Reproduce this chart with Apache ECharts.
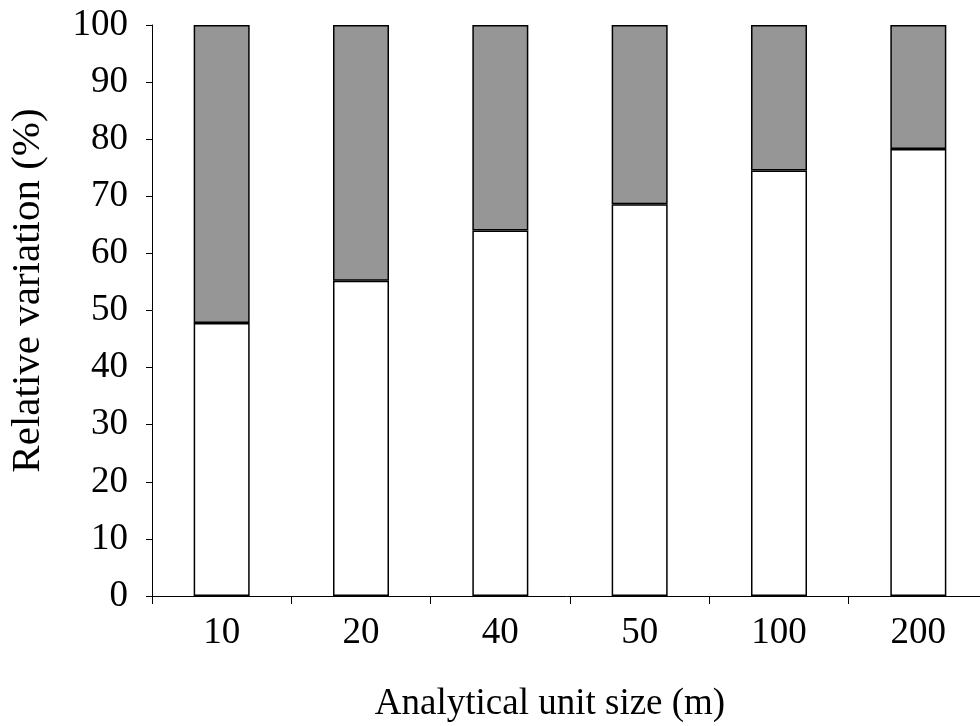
<!DOCTYPE html>
<html><head><meta charset="utf-8">
<script src="https://cdn.jsdelivr.net/npm/echarts@6/dist/echarts.min.js"></script>
<style>html,body{margin:0;padding:0;background:#fff}#c{width:980px;height:726px}</style>
</head><body><div id="c"></div>
<script>
const categories = ['10', '20', '40', '50', '100', '200'];
const lowerValues = [47.8, 55.2, 64.0, 68.6, 74.5, 78.3];
const upperValues = [52.2, 44.8, 36.0, 31.4, 25.5, 21.7];
const yTicks = [0, 10, 20, 30, 40, 50, 60, 70, 80, 90, 100];

const font = '"Liberation Serif", "Times New Roman", serif';
const chart = echarts.init(document.getElementById('c'));
chart.setOption({
  animation: false,
  backgroundColor: '#fff',
  grid: { left: 152, top: 25, width: 836, height: 571, containLabel: false, outerBoundsMode: 'none' },
  xAxis: {
    type: 'category', data: categories,
    name: 'Analytical unit size (m)', nameLocation: 'middle', nameGap: 90,
    nameTextStyle: { fontFamily: font, fontSize: 37, color: '#000', padding: [0, 40, 0, 0] },
    axisLine: { lineStyle: { color: '#000', width: 1 } },
    axisTick: { show: true, length: 8, lineStyle: { color: '#000' } },
    axisLabel: { fontFamily: font, fontSize: 37, color: '#000', margin: 19 }
  },
  yAxis: {
    type: 'value', min: yTicks[0], max: yTicks[yTicks.length - 1], interval: 10,
    name: 'Relative variation (%)', nameLocation: 'middle', nameGap: 103, nameRotate: 90,
    nameTextStyle: { fontFamily: font, fontSize: 41, color: '#000', padding: [0, 0, 0, 40] },
    axisLine: { show: true, lineStyle: { color: '#000', width: 1 } },
    axisTick: { show: true, length: 6, lineStyle: { color: '#000' } },
    splitLine: { show: false },
    axisLabel: { fontFamily: font, fontSize: 37, color: '#000', margin: 24 }
  },
  series: [
    { type: 'bar', stack: 'a', data: lowerValues, barWidth: 56,
      itemStyle: { color: '#ffffff', borderColor: '#000', borderWidth: 1.5 } },
    { type: 'bar', stack: 'a', data: upperValues, barWidth: 56,
      itemStyle: { color: '#969696', borderColor: '#000', borderWidth: 1.5 } }
  ]
});
</script></body></html>
